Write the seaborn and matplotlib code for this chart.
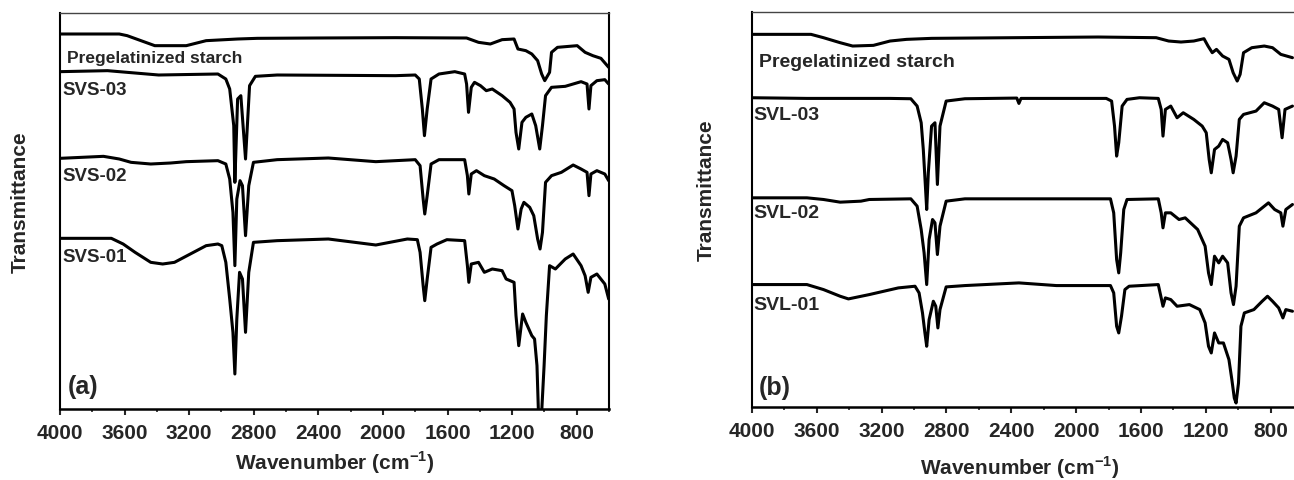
import matplotlib
matplotlib.use('Agg')
import matplotlib.pyplot as plt
import seaborn as sns
from matplotlib.ticker import MultipleLocator

# ---- panel (a): pregelatinized starch and SVS samples (offset, a.u.) ----
pgs_a_wn = [4000, 3633, 3584, 3413, 3218, 3095, 2900, 2778, 2411, 1922, 1482, 1408, 1335, 1262,
            1188, 1164, 1115, 1078, 1042, 1017, 998, 968, 956, 919, 846, 797, 748, 700, 650, 602]
pgs_a_t = [112.5, 112.5, 112.0, 109.0, 109.0, 110.5, 111.0, 111.2, 111.3, 111.4, 111.3, 110.0, 109.5, 110.8,
           111.0, 108.0, 107.5, 106.5, 104.5, 100.5, 98.5, 101.0, 107.0, 108.5, 108.8, 109.0, 107.0, 106.0, 105.2, 102.5]

svs03_wn = [4000, 3706, 3389, 3022, 2973, 2949, 2924, 2917, 2900, 2880, 2851, 2826, 2790, 2655, 1922, 1800,
            1775, 1756, 1743, 1726, 1702, 1653, 1555, 1494, 1482, 1470, 1453, 1433, 1396, 1360, 1323, 1262,
            1213, 1188, 1176, 1159, 1139, 1115, 1078, 1054, 1029, 1012, 993, 956, 871, 773, 736, 724, 712,
            675, 626, 602]
svs03_t = [101.2, 101.5, 100.2, 100.5, 99.0, 96.0, 85.0, 68.0, 93.0, 94.0, 75.0, 97.0, 99.8, 100.2, 100.0, 100.2,
           99.0, 90.0, 82.0, 90.0, 99.0, 100.5, 101.2, 100.5, 97.5, 89.0, 96.5, 98.0, 97.0, 95.5, 96.0, 94.0,
           92.0, 90.0, 83.0, 78.0, 86.0, 87.5, 88.5, 85.0, 78.0, 85.0, 94.0, 96.5, 96.8, 98.2, 97.5, 90.0, 97.0,
           98.5, 98.8, 97.5]

svs02_wn = [4000, 3731, 3633, 3560, 3438, 3315, 3218, 3022, 2973, 2949, 2929, 2917, 2905, 2885, 2870, 2851,
            2831, 2802, 2655, 2338, 2044, 1800, 1770, 1751, 1741, 1726, 1702, 1653, 1494, 1477, 1468, 1453,
            1421, 1372, 1311, 1250, 1201, 1184, 1164, 1144, 1127, 1091, 1066, 1042, 1027, 1012, 993, 956,
            895, 822, 773, 736, 724, 712, 675, 626, 602]
svs02_t = [75.2, 75.8, 75.0, 74.0, 73.5, 73.8, 74.2, 74.5, 73.5, 69.0, 59.0, 43.0, 63.0, 68.5, 67.0, 52.0,
           67.0, 74.0, 74.8, 75.3, 74.2, 74.8, 73.0, 63.0, 58.5, 64.0, 73.5, 74.8, 74.8, 70.0, 64.5, 70.5,
           71.5, 70.0, 69.0, 67.0, 65.5, 61.0, 54.0, 60.0, 62.0, 60.5, 58.0, 51.0, 48.0, 53.0, 68.0, 70.0,
           71.0, 73.2, 72.0, 71.0, 64.0, 70.5, 71.5, 70.5, 68.5]

svs01_wn = [4000, 3682, 3609, 3535, 3438, 3364, 3291, 3193, 3095, 3022, 2998, 2973, 2949, 2929, 2917, 2905,
            2888, 2870, 2851, 2831, 2802, 2655, 2338, 2044, 1849, 1787, 1770, 1751, 1741, 1726, 1702, 1665,
            1604, 1494, 1477, 1468, 1453, 1408, 1372, 1323, 1262, 1237, 1188, 1176, 1159, 1135, 1115, 1078,
            1061, 1046, 1037, 1017, 1002, 988, 968, 932, 871, 822, 773, 748, 729, 712, 675, 626, 602]
svs01_t = [51.2, 51.2, 49.5, 47.0, 44.0, 43.5, 44.0, 46.5, 49.0, 49.5, 49.0, 44.0, 33.0, 23.0, 10.5, 27.0,
           41.0, 39.0, 23.0, 41.0, 50.0, 50.5, 51.0, 49.2, 51.0, 50.8, 47.0, 37.0, 32.5, 39.0, 48.5, 49.5,
           50.8, 50.5, 43.0, 38.0, 43.5, 44.0, 41.0, 42.0, 41.5, 39.0, 38.0, 28.0, 19.0, 28.5, 26.0, 22.0,
           21.0, 13.0, -1.0, -1.0, 13.0, 28.0, 43.0, 42.0, 45.0, 46.5, 43.0, 40.0, 35.0, 39.5, 40.5, 37.5, 33.0]

# ---- panel (b): pregelatinized starch and SVL samples (offset, a.u.) ----
pgs_b_wn = [4000, 3636, 3559, 3456, 3379, 3251, 3148, 3046, 2892, 2378, 1865, 1506, 1429, 1353, 1274,
            1211, 1186, 1160, 1134, 1096, 1057, 1031, 1006, 988, 967, 916, 839, 788, 737, 665]
pgs_b_t = [111.7, 111.7, 110.7, 109.2, 108.2, 108.4, 109.7, 110.2, 110.5, 110.7, 110.9, 110.7, 109.7, 109.4, 109.7,
           110.4, 108.2, 106.2, 107.2, 105.2, 104.2, 100.2, 97.7, 99.7, 106.2, 107.7, 108.2, 107.7, 105.7, 104.7]

svl03_wn = [4000, 3661, 3148, 3020, 2981, 2956, 2943, 2930, 2922, 2912, 2892, 2871, 2856, 2840, 2802, 2686,
            2366, 2353, 2340, 1814, 1781, 1763, 1750, 1737, 1716, 1686, 1609, 1493, 1475, 1464, 1449, 1416,
            1377, 1339, 1274, 1222, 1197, 1179, 1166, 1146, 1120, 1096, 1065, 1044, 1031, 1013, 993, 967,
            890, 839, 788, 750, 729, 711, 665]
svl03_t = [92.7, 92.5, 92.5, 92.4, 90.2, 85.2, 77.2, 66.2, 59.2, 70.2, 84.2, 85.2, 66.7, 84.2, 91.7, 92.4,
           92.6, 91.0, 92.5, 92.5, 91.7, 84.2, 75.2, 79.2, 90.2, 92.2, 92.7, 92.5, 89.2, 81.2, 89.2, 90.2,
           86.7, 88.2, 86.2, 84.2, 82.2, 74.2, 70.2, 77.2, 78.2, 80.2, 79.2, 74.2, 70.2, 75.2, 86.2, 87.7,
           88.7, 91.2, 90.2, 89.2, 80.7, 89.2, 90.2]

svl02_wn = [4000, 3661, 3559, 3456, 3328, 3276, 3020, 2981, 2956, 2938, 2922, 2907, 2886, 2871, 2856, 2840,
            2802, 2686, 2122, 1788, 1768, 1750, 1737, 1725, 1706, 1686, 1493, 1475, 1464, 1449, 1416, 1365,
            1327, 1250, 1204, 1183, 1166, 1146, 1120, 1096, 1065, 1044, 1029, 1013, 993, 967, 890, 813,
            775, 737, 724, 706, 665]
svl02_t = [62.7, 62.7, 62.2, 61.4, 61.7, 62.2, 62.4, 60.2, 53.2, 46.2, 36.7, 50.2, 56.2, 55.2, 45.7, 54.2,
           61.7, 62.4, 62.4, 62.4, 58.2, 44.2, 40.2, 46.2, 59.2, 62.2, 62.4, 58.2, 53.7, 58.2, 58.2, 56.2,
           56.7, 53.2, 48.2, 40.2, 36.7, 45.2, 43.2, 45.2, 43.2, 34.2, 30.7, 36.2, 54.2, 56.7, 58.2, 61.2,
           59.2, 58.2, 54.2, 59.2, 60.7]

svl01_wn = [4000, 3661, 3559, 3456, 3405, 3276, 3097, 2994, 2969, 2948, 2933, 2922, 2907, 2881, 2866, 2853,
            2840, 2802, 2686, 2353, 2122, 1788, 1768, 1750, 1737, 1720, 1699, 1673, 1493, 1475, 1464, 1449,
            1416, 1377, 1301, 1237, 1204, 1183, 1166, 1146, 1120, 1091, 1057, 1039, 1024, 1013, 998, 983,
            962, 903, 852, 819, 788, 750, 724, 706, 665]
svl01_t = [36.7, 36.7, 35.2, 33.2, 32.4, 33.7, 35.7, 36.2, 34.2, 28.2, 22.2, 18.2, 26.2, 31.7, 30.2, 23.7,
           29.2, 36.0, 36.4, 37.2, 36.4, 36.4, 34.2, 24.2, 22.2, 27.2, 35.2, 36.2, 36.7, 32.7, 30.2, 32.7,
           32.2, 30.2, 30.7, 29.2, 25.2, 18.2, 16.2, 22.2, 19.2, 19.2, 14.2, 8.2, 2.7, 1.2, 7.2, 24.2,
           28.2, 29.2, 31.7, 33.2, 31.7, 29.7, 26.7, 29.2, 28.7]

labels_a = ['Pregelatinized starch', 'SVS-03', 'SVS-02', 'SVS-01']
labels_b = ['Pregelatinized starch', 'SVL-03', 'SVL-02', 'SVL-01']


def style_axes(ax, ylim):
    ax.set_xlim(4000, 600)
    ax.set_ylim(*ylim)
    ax.xaxis.set_major_locator(MultipleLocator(400))
    ax.xaxis.set_minor_locator(MultipleLocator(200))
    ax.tick_params(axis='x', which='major', direction='out', length=4, width=1.5,
                   labelsize=15, pad=6, bottom=True)
    ax.tick_params(axis='x', which='minor', direction='out', length=2.5, width=1.2, bottom=True)
    ax.set_yticks([])
    for lab in ax.get_xticklabels():
        lab.set_fontweight('bold')
    for side in ['left', 'right', 'bottom']:
        ax.spines[side].set_color('black')
        ax.spines[side].set_linewidth(1.5)
    ax.spines['bottom'].set_linewidth(1.8)
    ax.spines['top'].set_color('#444444')
    ax.spines['top'].set_linewidth(1.0)


def draw_panel(ax, curves, ylim):
    for wn, t in curves:
        sns.lineplot(x=wn, y=t, ax=ax, color='black', linewidth=2.2, estimator=None, sort=False)
    style_axes(ax, ylim)


sns.set_theme(style='white')
plt.rcParams['font.family'] = ['Liberation Sans', 'DejaVu Sans']
plt.rcParams['mathtext.fontset'] = 'custom'
plt.rcParams['mathtext.rm'] = 'Liberation Sans'
plt.rcParams['mathtext.bf'] = 'Liberation Sans:bold'

fig = plt.figure(figsize=(12.94, 4.81), dpi=100)
ax_a = fig.add_axes([60 / 1294, 71 / 481, 549 / 1294, 396 / 481])
ax_b = fig.add_axes([752 / 1294, 73 / 481, 551 / 1294, 395 / 481])

draw_panel(ax_a, [(pgs_a_wn, pgs_a_t), (svs03_wn, svs03_t), (svs02_wn, svs02_t), (svs01_wn, svs01_t)],
           (0, 118.8))
draw_panel(ax_b, [(pgs_b_wn, pgs_b_t), (svl03_wn, svl03_t), (svl02_wn, svl02_t), (svl01_wn, svl01_t)],
           (0, 118.4))

# curve labels
ax_a.text(3959, 105.3, labels_a[0], fontsize=12.5, fontweight='bold', va='center', ha='left')
ax_a.text(3983, 95.8, labels_a[1], fontsize=13.5, fontweight='bold', va='center', ha='left')
ax_a.text(3983, 69.9, labels_a[2], fontsize=13.5, fontweight='bold', va='center', ha='left')
ax_a.text(3983, 45.6, labels_a[3], fontsize=13.5, fontweight='bold', va='center', ha='left')
ax_a.text(3950, 6.9, '(a)', fontsize=18, fontweight='bold', va='center', ha='left')

ax_b.text(3957, 103.7, labels_b[0], fontsize=14, fontweight='bold', va='center', ha='left')
ax_b.text(3994, 87.8, labels_b[1], fontsize=14, fontweight='bold', va='center', ha='left')
ax_b.text(3994, 58.4, labels_b[2], fontsize=14, fontweight='bold', va='center', ha='left')
ax_b.text(3994, 30.6, labels_b[3], fontsize=14, fontweight='bold', va='center', ha='left')
ax_b.text(3957, 6.0, '(b)', fontsize=18, fontweight='bold', va='center', ha='left')

xlab = r'Wavenumber (cm$^{\mathbf{-1}}$)'
for ax, xpos, ypos, yx, yy in [(ax_a, 0.5, -0.134, -0.073, 0.525),
                               (ax_b, 0.486, -0.150, -0.0835, 0.552)]:
    ax.set_xlabel(xlab, fontsize=15, fontweight='bold')
    ax.set_ylabel('Transmittance', fontsize=15, fontweight='bold')
    ax.xaxis.set_label_coords(xpos, ypos)
    ax.yaxis.set_label_coords(yx, yy)
    ax.xaxis.label.set_verticalalignment('center')
    ax.yaxis.label.set_verticalalignment('center')

fig.savefig('out.png', dpi=100)
